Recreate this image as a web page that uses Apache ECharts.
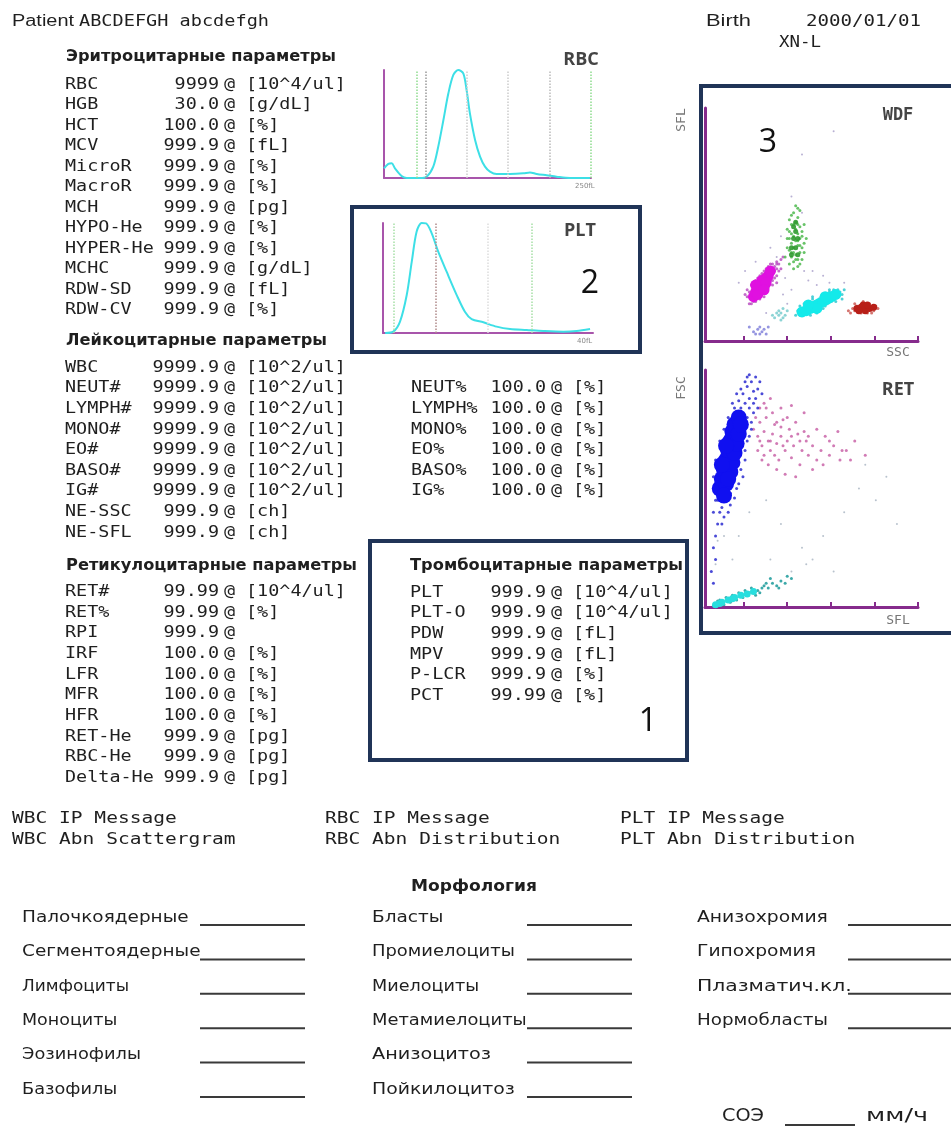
<!DOCTYPE html>
<html>
<head>
<meta charset="utf-8">
<script src="https://cdn.jsdelivr.net/npm/echarts@6/dist/echarts.min.js"></script>
<style>html,body{margin:0;padding:0;background:#fff}#main{width:951px;height:1128px}</style>
</head>
<body>
<div id="main"></div>
<script>
// histograms (size in % of scale, count in % of peak)
var rbcSize  = [0,2.1,3.7,5.3,8.5,11,14.2,17.4,20.6,23.8,26.2,28.7,31.1,33.5,35.9,38.3,39.9,41.5,44,46.4,48.8,51.2,54.4,60.9,67.3,70.5,73.8,78.6,83.4,89.9,99.5];
var rbcCount = [9,13,13.6,9,1.9,0,0,0,1.2,10.5,29,53.7,78.4,95.4,100,96.9,81.5,59.9,35.2,19.8,10.5,5.9,3.7,3.7,4.3,5.2,3.7,2.5,1.2,0,0];
var rbcMarks = [16,20,40,60,80,100];
var pltSize  = [1,4.9,8.1,11.3,13.7,16,18.4,20.5,23.2,26.3,30.3,35.1,39,42.2,47.8,54.1,60.5,68.4,76.3,85.9,92.2,98.6];
var pltCount = [0,1.2,10.3,34.5,64.8,92,100,99.7,90.6,73.9,55.7,34.5,19.4,12.7,9.7,5.8,3.6,2.7,1.8,1.2,1.8,3.6];
var pltMarks = [5,25,50,71];

// WDF scattergram [SSC, SFL]
var wdfMagentaCore = [[22,19],[23,21],[24,22],[25,24],[26,23],[27,26],[28,27],[29,28],[30,30],[26,26],[24,20],[28,25],[23,24],[27,22]];
var wdfMagenta = [[21,18],[22,20],[23,19],[22,22],[24,21],[25,23],[24,24],[26,22],[26,25],[27,24],[25,26],[27,27],[28,26],[28,28],[29,27],[29,29],[30,28],[30,30],[31,29],[31,31],[32,30],[32,32],[33,31],[23,23],[26,27],[28,24],[24,19],[20,21],[30,26],[34,33],[33,34],[35,35],[19,19],[27,30],[31,26],[25,20],[29,32],[22,17],[36,36],[20,16],[21,24],[33,28],
  [19,22],[20,19],[21,21],[22,25],[23,17],[24,27],[25,18],[26,29],[27,21],[28,31],[29,23],[30,33],[31,24],[32,27],[33,25],[34,30],[35,31],[18,20],[23,26],[25,28],[27,19],[29,25],[31,33],[33,33],[21,16]];
var wdfGreenCore = [[40,40],[42,40],[41,44],[43,44],[42,47],[41,49],[43,37],[40,37],[42,51]];
var wdfGreen = [[39,33],[41,34],[43,35],[40,36],[42,37],[44,38],[39,39],[41,40],[43,41],[45,40],[40,42],[42,43],[44,44],[41,45],[43,46],[39,47],[42,48],[44,49],[40,50],[42,51],[43,53],[41,55],[44,56],[38,44],[46,42],[45,47],[42,58],[40,38],[43,32],[45,35],
  [37,36],[38,40],[38,48],[39,52],[40,46],[41,38],[41,50],[43,43],[43,50],[44,41],[45,45],[46,38],[46,50],[40,54],[43,57],[41,31],[44,33],[47,44],[39,44],[42,35]];
var wdfCyanCore = [[45,12.5],[47,13],[49,14],[51,15],[53,16],[55,17],[57,18],[59,19],[61,20],[52,14],[56,19],[48,15.5]];
var wdfCyan = [[44,11],[45,14],[47,12],[48,16],[50,13],[51,17],[53,14],[54,19],[56,15],[57,20],[59,17],[60,22],[62,19],[63,21],[64,20],[43,13],[50,18],[55,14],[58,21],[52,12],[61,17],[65,22],[47,15],
  [42,11],[44,15],[46,16],[49,11],[53,18],[57,16],[60,18],[62,22],[64,18],[58,22],[50,19]];
var wdfRedCore = [[71,14],[73,14.5],[75,13],[77,14],[79,14.5],[74,15.5],[76,15.5],[72,13]];
var wdfRed = [[68,12],[70,13],[71,15],[73,12],[76,12],[77,16],[79,13],[80,15],[69,14],[74,17],[67,13],[81,14],[78,12],[70,16]];
var wdfPaleCyan = [[32,10],[34,11],[35,12],[36,10],[33,12],[35,9],[37,11],[31,11],[34,13],[38,13],[36,14]];
var wdfBlue = [[22,4],[24,5],[26,4],[25,6],[27,5],[23,3],[28,3],[20,6],[25,3],[29,6]];
var wdfStray = [[30,40],[35,45],[45,55],[50,30],[55,28],[58,25],[48,26],[36,20],[38,16],[33,36],[18,30],[40,62],[45,80],[60,90],[28,12],[40,22],[52,24],[65,25],[37,27],[46,30],[23,34],[15,25]];

// RET scattergram [SFL, FSC]
var retBlueCore = [[6,50],[7,54],[8,58],[9,62],[10,66],[11,70],[12,74],[13,77],[15,80],[9,52],[11,57],[12,61],[13,65],[14,69],[15,73],[16,77],[8,47],[10,54],[7,60],[9,68]];
var retBlue = [[5,45],[6,48],[4,52],[6,56],[5,60],[7,64],[8,68],[9,72],[10,76],[12,80],[13,84],[15,87],[17,90],[19,93],[21,95],[23,97],[18,86],[20,88],[22,91],[16,84],[19,80],[18,76],[17,72],[16,68],[15,64],[14,60],[13,56],[12,52],[11,48],[9,45],[7,42],[6,40],[8,38],[5,35],[4,30],[3,25],[4,20],[2,15],[3,10],[20,84],[24,92],[22,86],[11,43],[14,50],[16,58],[18,66],[20,72],[21,78],[25,95],[19,97],
  [3,40],[4,45],[3,55],[4,62],[6,70],[8,75],[10,80],[12,86],[14,90],[16,92],[18,95],[20,98],[22,82],[23,88],[21,75],[19,70],[18,62],[17,55],[15,52],[13,46],[10,40],[7,35],[26,90],[24,84]];
var retPink = [[22,75],[24,72],[25,78],[26,68],[27,74],[28,80],[29,70],[30,66],[31,73],[32,77],[33,69],[34,62],[35,72],[36,79],[37,66],[38,70],[39,75],[40,63],[41,68],[43,73],[44,60],[45,66],[47,70],[48,64],[50,68],[52,62],[54,66],[56,72],[58,64],[60,68],[63,62],[66,66],[70,70],[29,60],[33,58],[37,56],[42,55],[46,82],[40,85],[30,88],[35,84],[52,75],[62,74],[26,62],[24,66],[28,84],[50,58],
  [23,80],[25,84],[27,86],[31,82],[33,78],[35,76],[38,80],[42,78],[44,70],[46,74],[48,72],[55,60],[58,70],[64,66],[68,62],[75,64],[30,70],[32,64],[36,68],[40,72],[27,64],[25,70]];
var retTealCore = [[4,1],[7,2],[10,3],[13,4],[16,5],[19,5.5],[22,6.5],[6,1.5],[12,3.5]];
var retTeal = [[3,0.5],[5,2.5],[8,1],[9,4],[11,2],[12,5],[14,3],[15,6],[17,4],[18,7],[20,6],[21,8],[23,5],[24,7],[26,8],[27,9],[29,8],[31,10],[33,9],[35,11],[37,10],[40,12],[6,3],[25,6],[30,12],[28,10],[34,8],[38,13]];
var retStray = [[5,28],[4,18],[8,30],[20,40],[28,45],[35,35],[45,25],[55,30],[60,15],[50,20],[65,40],[72,50],[80,45],[75,60],[85,55],[40,15],[47,18],[30,20],[15,30],[12,20],[90,35]];
var scatterTicks = [17.3,38,58.7,79.3,100];

// report texts
var erythroRows = [['RBC','9999','[10^4/ul]'],['HGB','30.0','[g/dL]'],['HCT','100.0','[%]'],['MCV','999.9','[fL]'],['MicroR','999.9','[%]'],['MacroR','999.9','[%]'],['MCH','999.9','[pg]'],['HYPO-He','999.9','[%]'],['HYPER-He','999.9','[%]'],['MCHC','999.9','[g/dL]'],['RDW-SD','999.9','[fL]'],['RDW-CV','999.9','[%]']];
var leukoRows = [['WBC','9999.9','[10^2/ul]'],['NEUT#','9999.9','[10^2/ul]'],['LYMPH#','9999.9','[10^2/ul]'],['MONO#','9999.9','[10^2/ul]'],['EO#','9999.9','[10^2/ul]'],['BASO#','9999.9','[10^2/ul]'],['IG#','9999.9','[10^2/ul]'],['NE-SSC','999.9','[ch]'],['NE-SFL','999.9','[ch]']];
var leukoPctRows = [['NEUT%','100.0','[%]'],['LYMPH%','100.0','[%]'],['MONO%','100.0','[%]'],['EO%','100.0','[%]'],['BASO%','100.0','[%]'],['IG%','100.0','[%]']];
var retRows = [['RET#','99.99','[10^4/ul]'],['RET%','99.99','[%]'],['RPI','999.9',''],['IRF','100.0','[%]'],['LFR','100.0','[%]'],['MFR','100.0','[%]'],['HFR','100.0','[%]'],['RET-He','999.9','[pg]'],['RBC-He','999.9','[pg]'],['Delta-He','999.9','[pg]']];
var pltRows = [['PLT','999.9','[10^4/ul]'],['PLT-O','999.9','[10^4/ul]'],['PDW','999.9','[fL]'],['MPV','999.9','[fL]'],['P-LCR','999.9','[%]'],['PCT','99.99','[%]']];
var messageCols = [['WBC IP Message','WBC Abn Scattergram'],['RBC IP Message','RBC Abn Distribution'],['PLT IP Message','PLT Abn Distribution']];
var morphCol1 = ['Палочкоядерные','Сегментоядерные','Лимфоциты','Моноциты','Эозинофилы','Базофилы'];
var morphCol2 = ['Бласты','Промиелоциты','Миелоциты','Метамиелоциты','Анизоцитоз','Пойкилоцитоз'];
var morphCol3 = ['Анизохромия','Гипохромия','Плазматич.кл.','Нормобласты'];

var myChart = echarts.init(document.getElementById('main'));

var ctx = document.createElement('canvas').getContext('2d');
var MONO = '15px "DejaVu Sans Mono"';
var SANS = '15px "DejaVu Sans"';
var BOLD = 'bold 15px "DejaVu Sans"';
var INK = '#1f1f1f';
function fit(str, font, w) { ctx.font = font; var m = ctx.measureText(str).width; return m ? w / m : 1; }
ctx.font = MONO;
var monoSx = 11.1 / ctx.measureText('0').width;

var G = [];
function txt(x, y, str, font, o) {
  o = o || {};
  var sx = o.w ? fit(str, font, o.w) : (o.sx || 1);
  var al = o.align || 'left';
  G.push({type:'text', x:x, y:y, scaleX:sx, rotation:o.rot || 0, z:50,
    style:{text:str, font:font, fill:o.fill || INK, textAlign:al, align:al, textVerticalAlign:'middle', verticalAlign:'middle'}});
}
function hline(x1, x2, y, color, lw) {
  G.push({type:'line', z:50, shape:{x1:x1, y1:y, x2:x2, y2:y}, style:{stroke:color, lineWidth:lw}});
}
function frame(x, y, w, h) {
  G.push({type:'rect', z:100, shape:{x:x, y:y, width:w, height:h}, style:{fill:null, stroke:'#203457', lineWidth:4}});
}
function block(rows, x0, xv, y0, dy) {
  rows.forEach(function (r, i) {
    var y = y0 + i * dy;
    txt(x0, y, r[0], MONO, {sx:monoSx});
    txt(xv, y, r[1], MONO, {sx:monoSx, align:'right'});
    txt(xv + 5, y, '@', MONO, {sx:monoSx});
    if (r[2]) txt(xv + 27, y, r[2], MONO, {sx:monoSx});
  });
}

// header
txt(12, 22, 'Patient', '16px "Liberation Sans"', {w:62});
txt(79, 22, 'ABCDEFGH abcdefgh', MONO, {w:190});
txt(706, 22, 'Birth', '16px "Liberation Sans"', {w:45});
txt(806, 22, '2000/01/01', MONO, {w:115});
txt(779, 43, 'XN-L', MONO, {w:42});

// parameter blocks
txt(66, 57, 'Эритроцитарные параметры', BOLD, {w:270});
block(erythroRows, 65, 219, 85, 20.5);
txt(66, 341, 'Лейкоцитарные параметры', BOLD, {w:261});
block(leukoRows, 65, 219, 368, 20.6);
block(leukoPctRows, 411, 546, 388.6, 20.6);
txt(66, 566, 'Ретикулоцитарные параметры', BOLD, {w:291});
block(retRows, 65, 219, 592, 20.7);
txt(410, 566, 'Тромбоцитарные параметры', BOLD, {w:273});
block(pltRows, 410, 546, 593, 20.6);

// messages
messageCols.forEach(function (c, i) {
  var x = [12, 325, 620][i];
  txt(x, 819, c[0], MONO, {sx:monoSx * 1.06});
  txt(x, 840, c[1], MONO, {sx:monoSx * 1.06});
});

// morphology
txt(474, 887, 'Морфология', BOLD, {w:126, align:'center'});
[morphCol1, morphCol2, morphCol3].forEach(function (col, c) {
  var lx = [22, 372, 697][c], l1 = [200, 527, 848][c], l2 = [305, 632, 951][c];
  col.forEach(function (s, i) {
    var y = 918 + i * 34.4;
    txt(lx, y, s, SANS, {w:s.length * 11.9});
    hline(l1, l2, y + 7, '#3a3a3a', 2);
  });
});
txt(722, 1117, 'СОЭ', '17px "DejaVu Sans"', {w:42});
hline(785, 855, 1125, '#3a3a3a', 2);
txt(866, 1117, 'мм/ч', '17px "DejaVu Sans"', {w:62});

// chart titles and axis names
txt(581, 60, 'RBC', 'bold 18px "Open Sans"', {align:'center', fill:'#444'});
txt(580, 231, 'PLT', 'bold 18px "Open Sans"', {align:'center', fill:'#444'});
txt(898, 116, 'WDF', 'bold 17px "DejaVu Sans Mono"', {align:'center', fill:'#444'});
txt(898, 390, 'RET', 'bold 18px "Open Sans"', {align:'center', fill:'#444'});
txt(575, 186, '250fL', '7px "DejaVu Sans"', {fill:'#888'});
txt(577, 341, '40fL', '7px "DejaVu Sans"', {fill:'#888'});
txt(898, 353, 'SSC', '13px "DejaVu Sans Mono"', {align:'center', fill:'#777'});
txt(898, 621, 'SFL', '13px "DejaVu Sans Mono"', {align:'center', fill:'#777'});
txt(682, 120, 'SFL', '13px "DejaVu Sans Mono"', {align:'center', fill:'#777', rot:Math.PI / 2});
txt(682, 388, 'FSC', '13px "DejaVu Sans Mono"', {align:'center', fill:'#777', rot:Math.PI / 2});

// annotation frames and numbers
frame(370, 541, 317, 219);
frame(352, 207, 288, 145);
frame(701, 86, 270, 547);
txt(648, 722, '1', '32px "Open Sans"', {align:'center', fill:'#111'});
txt(590, 284, '2', '32px "Open Sans"', {align:'center', fill:'#111'});
txt(768, 143, '3', '32px "Open Sans"', {align:'center', fill:'#111'});

var histPurple = '#a855ab', scPurple = '#862b8c', cyan = '#3ddfe6';
function histX(i) {
  return {gridIndex:i, type:'value', min:0, max:100, axisLine:{show:true, onZero:false, lineStyle:{color:histPurple, width:2}},
    axisTick:{show:false}, axisLabel:{show:false}, splitLine:{show:false}};
}
function histY(i) {
  return {gridIndex:i, type:'value', min:0, max:100, axisLine:{show:true, lineStyle:{color:histPurple, width:2}},
    axisTick:{show:false}, axisLabel:{show:false}, splitLine:{show:false}};
}
function scX(i) {
  return {gridIndex:i, type:'value', min:-1, max:100, axisLine:{show:true, onZero:false, lineStyle:{color:scPurple, width:3}},
    axisTick:{show:true, inside:true, length:5, customValues:scatterTicks, lineStyle:{color:scPurple, width:2}},
    axisLabel:{show:false}, splitLine:{show:false}};
}
function scY(i) {
  return {gridIndex:i, type:'value', min:0, max:100, axisLine:{show:true, onZero:false, lineStyle:{color:scPurple, width:3}},
    axisTick:{show:false}, axisLabel:{show:false}, splitLine:{show:false}};
}
function marks(vals, colors) {
  return {silent:true, symbol:'none', label:{show:false},
    data:vals.map(function (v, i) { return {xAxis:v, lineStyle:{type:'dotted', width:1.5, color:colors[i]}}; })};
}
function pts(data, xi, size, color, op) {
  return {type:'scatter', xAxisIndex:xi, yAxisIndex:xi, data:data, symbolSize:size, itemStyle:{color:color, opacity:op || 1}, silent:true};
}
function zip(a, b) { return a.map(function (v, i) { return [v, b[i]]; }); }

var option = {
  backgroundColor:'#fff',
  animation:false,
  grid:[
    {left:384, top:70, width:207, height:108},
    {left:383, top:223, width:210, height:110},
    {left:705, top:108, width:213, height:233},
    {left:705, top:370, width:213, height:237}
  ],
  xAxis:[histX(0), histX(1), scX(2), scX(3)],
  yAxis:[histY(0), histY(1), scY(2), scY(3)],
  graphic:{elements:G},
  series:[
    {type:'line', xAxisIndex:0, yAxisIndex:0, data:zip(rbcSize, rbcCount), smooth:0.3, showSymbol:false,
      lineStyle:{color:cyan, width:2},
      markLine:marks(rbcMarks, ['#8fdc8f','#999','#ccc','#ccc','#bbb','#8fdc8f'])},
    {type:'line', xAxisIndex:1, yAxisIndex:1, data:zip(pltSize, pltCount), smooth:0.3, showSymbol:false,
      lineStyle:{color:cyan, width:2},
      markLine:marks(pltMarks, ['#a6e0a6','#b08a8a','#ddd','#a6e0a6'])},
    pts(wdfStray, 2, 2, '#9a8fc0', 0.7),
    pts(wdfBlue, 2, 3, '#7a7ad8', 0.8),
    pts(wdfPaleCyan, 2, 3, '#7fcfd0', 0.9),
    pts(wdfMagenta, 2, 3, '#b03ab8', 0.75),
    pts(wdfMagentaCore, 2, 11, '#e010e0'),
    pts(wdfGreen, 2, 3, '#4db84d', 0.85),
    pts(wdfGreenCore, 2, 5, '#2f9a2f', 0.9),
    pts(wdfCyan, 2, 3, '#30c8d0', 0.85),
    pts(wdfCyanCore, 2, 11, '#14eaea'),
    pts(wdfRed, 2, 3, '#cc5a55', 0.85),
    pts(wdfRedCore, 2, 7, '#b81f18'),
    pts(retStray, 3, 2, '#9aa8b8', 0.7),
    pts(retPink, 3, 3, '#c24f9c', 0.75),
    pts(retBlue, 3, 3, '#2a2ad0', 0.85),
    pts(retBlueCore, 3, 16, '#1010f0'),
    pts(retTeal, 3, 3, '#1a9a9a', 0.85),
    pts(retTealCore, 3, 7, '#28dede')
  ]
};
myChart.setOption(option);
</script>
</body>
</html>
